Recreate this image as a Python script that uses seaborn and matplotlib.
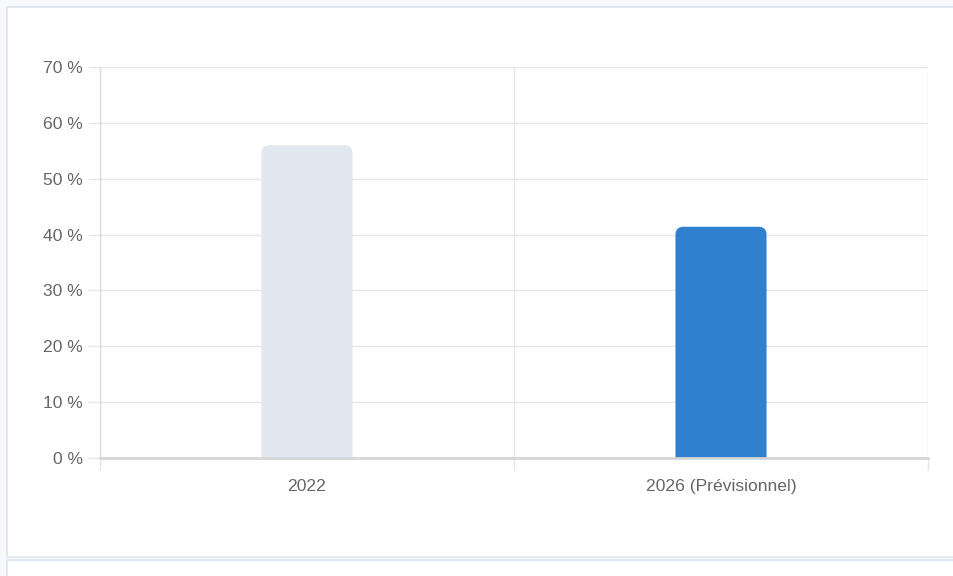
import matplotlib
matplotlib.use("Agg")
import matplotlib.pyplot as plt
import seaborn as sns
import pandas as pd
from matplotlib.patches import Rectangle, FancyBboxPatch

categories = ["2022", "2026 (Prévisionnel)"]
values = [56, 41.4]
bar_colors = ["#e1e8f0", "#2f80ce"]
y_ticks = [0, 10, 20, 30, 40, 50, 60, 70]

sns.set_theme(style="white")
plt.rcParams['font.family'] = ['Liberation Sans', 'DejaVu Sans']

W, H = 954, 576
fig = plt.figure(figsize=(W / 100, H / 100), dpi=100)
fig.patch.set_facecolor("#f7f9fc")

border = "#e2e8f0"
# card
fig.patches.append(Rectangle((7 / W, 19 / H), 1.0, (569 - 19) / H, transform=fig.transFigure,
                             facecolor="white", edgecolor=border, linewidth=1.5, zorder=-10))
# lower card
fig.patches.append(Rectangle((7 / W, -0.1), 1.0, (16 / H) + 0.1, transform=fig.transFigure,
                             facecolor="white", edgecolor=border, linewidth=1.5, zorder=-10))

ax = fig.add_axes([100 / W, (H - 458) / H, 828 / W, 391 / H])
ax.set_zorder(1)
ax.set_facecolor("none")

df = pd.DataFrame({"cat": categories, "val": values})
sns.barplot(data=df, x="cat", y="val", hue="cat", palette=bar_colors, width=0.22,
            saturation=1, legend=False, ax=ax, zorder=3)

ax.set_xlim(-0.5, 1.5)
ax.set_ylim(0, 70)

# rounded tops
px_per_x = 828 / 2.0
px_per_y = 391 / 70.0
r_px = 8
rx = r_px / px_per_x
ry = r_px / px_per_y
for p in list(ax.patches):
    x0, w, h = p.get_x(), p.get_width(), p.get_height()
    fc = p.get_facecolor()
    p.set_visible(False)
    fb = FancyBboxPatch((x0, -ry * 2), w, h + ry * 2,
                        boxstyle=f"round,pad=0,rounding_size={rx}",
                        mutation_aspect=ry / rx, facecolor=fc, edgecolor="none",
                        zorder=3, clip_on=True)
    ax.add_patch(fb)

grid_c = "#e6e6e6"
ax.set_yticks(y_ticks)
ax.set_yticklabels([f"{v} %" for v in y_ticks])
ax.set_xticks([0, 1])
ax.set_xticklabels(categories)
ax.set_xticks([-0.5, 0.5, 1.5], minor=True)
ax.set_xlabel("")
ax.set_ylabel("")

ax.yaxis.grid(True, color=grid_c, linewidth=1, zorder=0)
ax.xaxis.grid(True, which="minor", color=grid_c, linewidth=1, zorder=0)
ax.set_axisbelow(True)

ax.tick_params(axis="both", which="both", bottom=True, left=True)
ax.tick_params(axis="y", length=8.6, color=grid_c, width=1, labelsize=12.6, labelcolor="#666666", pad=3.6)
ax.tick_params(axis="x", which="major", length=0, labelsize=12.6, labelcolor="#666666", pad=15)
ax.tick_params(axis="x", which="minor", length=8.6, color=grid_c, width=1)

for s in ["top", "right"]:
    ax.spines[s].set_visible(False)
ax.spines["left"].set_color("#dcdcdc")
ax.spines["left"].set_linewidth(1.0)
ax.spines["bottom"].set_color("#d6d6d6")
ax.spines["bottom"].set_linewidth(2)
ax.spines["bottom"].set_zorder(4)

fig.savefig("out.png", dpi=100, facecolor=fig.get_facecolor())
